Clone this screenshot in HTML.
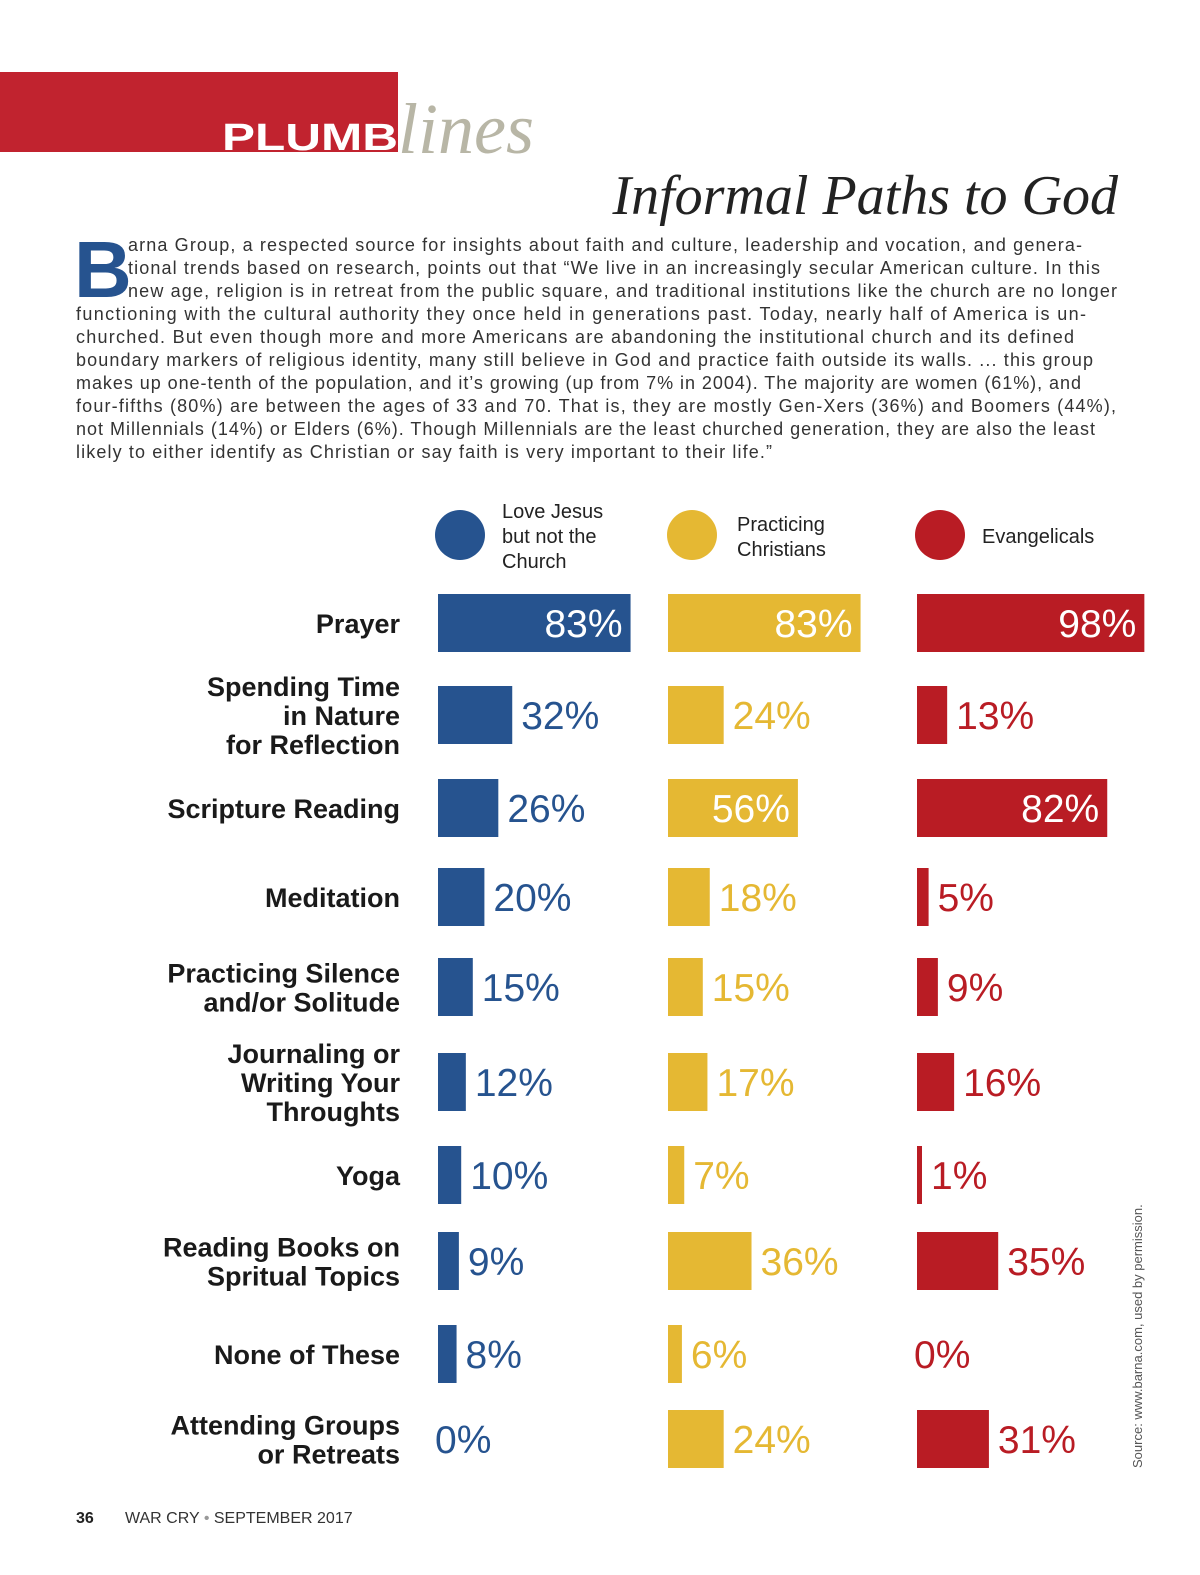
<!DOCTYPE html>
<html><head><meta charset="utf-8"><style>
html,body{margin:0;padding:0;background:#fff}
svg{display:block}
</style></head><body>
<svg width="1200" height="1575" viewBox="0 0 1200 1575" xmlns="http://www.w3.org/2000/svg" font-family="Liberation Sans, sans-serif">
<rect x="0" y="72" width="398" height="80" fill="#c1232f"/>
<text x="222" y="150" font-size="38" font-weight="bold" fill="#fff" textLength="176" lengthAdjust="spacingAndGlyphs">PLUMB</text>
<text x="398" y="153" font-family="Liberation Serif, serif" font-style="italic" font-size="72" fill="#b8b6a6">lines</text>
<text x="1118" y="214" text-anchor="end" font-family="Liberation Serif, serif" font-style="italic" font-size="56" fill="#222">Informal Paths to God</text>
<text x="74" y="297" font-size="80" font-weight="bold" fill="#26538f">B</text>
<g font-size="18" fill="#333">
<text x="128" y="251" textLength="954" lengthAdjust="spacing">arna Group, a respected source for insights about faith and culture, leadership and vocation, and genera-</text>
<text x="128" y="274" textLength="972" lengthAdjust="spacing">tional trends based on research, points out that “We live in an increasingly secular American culture. In this</text>
<text x="128" y="297" textLength="989" lengthAdjust="spacing">new age, religion is in retreat from the public square, and traditional institutions like the church are no longer</text>
<text x="76" y="320" textLength="1010" lengthAdjust="spacing">functioning with the cultural authority they once held in generations past. Today, nearly half of America is un-</text>
<text x="76" y="343" textLength="998" lengthAdjust="spacing">churched. But even though more and more Americans are abandoning the institutional church and its defined</text>
<text x="76" y="366" textLength="1017" lengthAdjust="spacing">boundary markers of religious identity, many still believe in God and practice faith outside its walls. ... this group</text>
<text x="76" y="389" textLength="1005" lengthAdjust="spacing">makes up one-tenth of the population, and it’s growing (up from 7% in 2004). The majority are women (61%), and</text>
<text x="76" y="412" textLength="1040" lengthAdjust="spacing">four-fifths (80%) are between the ages of 33 and 70. That is, they are mostly Gen-Xers (36%) and Boomers (44%),</text>
<text x="76" y="435" textLength="1019" lengthAdjust="spacing">not Millennials (14%) or Elders (6%). Though Millennials are the least churched generation, they are also the least</text>
<text x="76" y="458" textLength="696" lengthAdjust="spacing">likely to either identify as Christian or say faith is very important to their life.”</text>
</g>
<g font-size="20" fill="#222">
<circle cx="460" cy="535" r="25" fill="#26538f"/>
<text x="502" y="518">Love Jesus</text><text x="502" y="543">but not the</text><text x="502" y="568">Church</text>
<circle cx="692" cy="535" r="25" fill="#e5b833"/>
<text x="737" y="531">Practicing</text><text x="737" y="556">Christians</text>
<circle cx="940" cy="535" r="25" fill="#b91c24"/>
<text x="982" y="543">Evangelicals</text>
</g>
<g id="chart"></g>
<text x="76" y="1523" font-size="16" font-weight="bold" fill="#222">36</text>
<text x="125" y="1523" font-size="16" fill="#333">WAR CRY <tspan fill="#999">•</tspan> SEPTEMBER 2017</text>
<text transform="translate(1142,1468) rotate(-90)" font-size="13" fill="#555">Source: www.barna.com, used by permission.</text>
</svg>
<script>
const categories = [["Prayer"],["Spending Time","in Nature","for Reflection"],["Scripture Reading"],["Meditation"],["Practicing Silence","and/or Solitude"],["Journaling or","Writing Your","Throughts"],["Yoga"],["Reading Books on","Spritual Topics"],["None of These"],["Attending Groups","or Retreats"]];
const loveJesus = [83,32,26,20,15,12,10,9,8,0];
const practicing = [83,24,56,18,15,17,7,36,6,24];
const evangelicals = [98,13,82,5,9,16,1,35,0,31];
const rowCenters = [623,715,808,897,987,1082,1175,1261,1354,1439];
const NS="http://www.w3.org/2000/svg";
const g=document.getElementById('chart');
const cols=[{x:438,data:loveJesus,color:"#26538f",name:"love-jesus"},{x:668,data:practicing,color:"#e5b833",name:"practicing"},{x:917,data:evangelicals,color:"#b91c24",name:"evangelicals"}];
function w(v){return v<=0?0:Math.max(5,v*2.32);}
function mk(t,a){const e=document.createElementNS(NS,t);for(const k in a)e.setAttribute(k,a[k]);g.appendChild(e);return e;}
categories.forEach((lines,i)=>{
  const cy=rowCenters[i];
  const n=lines.length, lh=29;
  lines.forEach((ln,j)=>{
    const t=mk('text',{x:400,y:cy+10+(j-(n-1)/2)*lh,'text-anchor':'end','font-size':27,'font-weight':'bold',fill:'#1a1a1a'});
    
    
    t.textContent=ln;
  });
  cols.forEach(c=>{
    const v=c.data[i], bw=w(v);
    if(bw>0){
      const r=mk('rect',{x:c.x,y:cy-29,width:bw,height:58,fill:c.color});
      
      
    }
    const inside=v>=50;
    const t=mk('text',{x:inside?c.x+bw-8:c.x+bw+(bw>0?9:-3),y:cy+14,'text-anchor':inside?'end':'start','font-size':39,fill:inside?'#fff':c.color});
    
    
    t.textContent=v+'%';
  });
});
</script>
</body></html>
